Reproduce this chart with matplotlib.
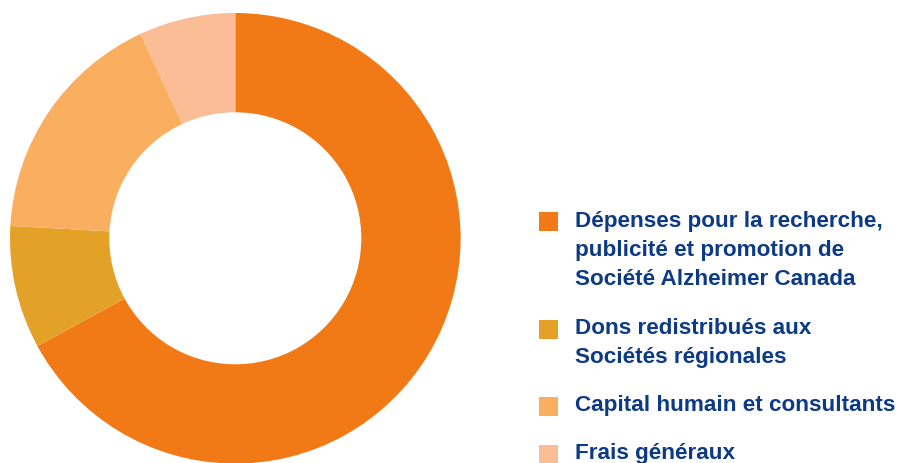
import matplotlib
matplotlib.use("Agg")
import matplotlib.pyplot as plt
from matplotlib.patches import Rectangle

# share of expenses (%), read from the ring
labels = [
    "Dépenses pour la recherche,\npublicité et promotion de\nSociété Alzheimer Canada",
    "Dons redistribués aux\nSociétés régionales",
    "Capital humain et consultants",
    "Frais généraux",
]
values = [67.0, 8.8, 17.2, 6.9]
colors = ["#F27A16", "#E3A127", "#FAAF60", "#FABD96"]

W, H = 901, 463
fig = plt.figure(figsize=(W / 100, H / 100), dpi=100)
ax = fig.add_axes([0, 0, 1, 1])

r_out, r_in = 225.3, 126
ax.pie(values, colors=colors, startangle=90, counterclock=False,
       center=(235.3, H - 238.3), radius=r_out,
       wedgeprops=dict(width=r_out - r_in, linewidth=0), frame=True)
ax.set_xlim(0, W)
ax.set_ylim(0, H)
ax.set_aspect("equal")
ax.axis("off")

# legend, drawn by hand (pixel layout, y measured from top)
navy = "#0D3A85"
first_line_y = [221.5, 329, 406, 454]
line_step = 29
for lab, col, y0 in zip(labels, colors, first_line_y):
    ax.add_patch(Rectangle((538.5, H - y0 - 9.5), 19, 19, color=col, lw=0))
    for i, line in enumerate(lab.split("\n")):
        ax.text(575, H - (y0 + i * line_step), line, ha="left", va="center",
                fontsize=16.2, fontweight="bold", color=navy,
                family="Liberation Sans")

fig.savefig("out.png", dpi=100, facecolor="white")
